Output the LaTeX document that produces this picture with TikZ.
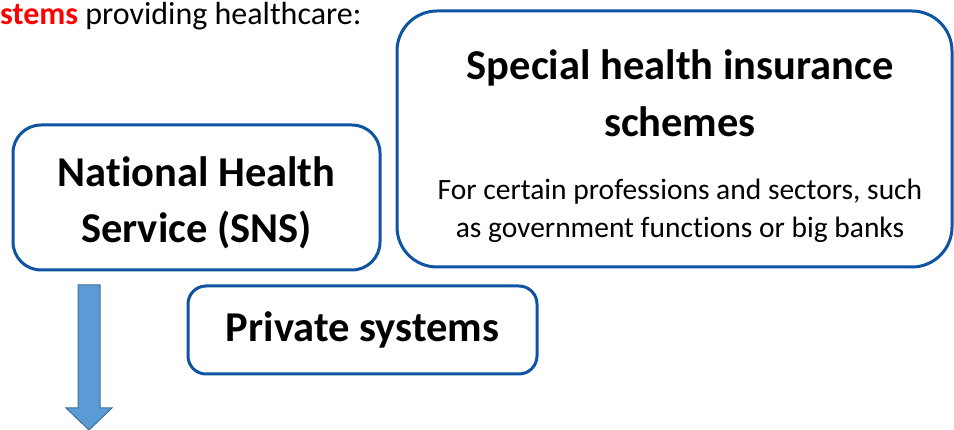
\documentclass[tikz,border=0pt]{standalone}
\usepackage{fontspec}
\setmainfont{Carlito}[Ligatures=NoCommon]
\usetikzlibrary{shapes,arrows,positioning,calc}

\definecolor{boxblue}{RGB}{14,84,163}
\definecolor{arrowfill}{RGB}{91,155,213}
\definecolor{arrowline}{RGB}{65,113,156}

\tikzset{
  sysbox/.style={draw=boxblue, line width=3pt, rounded corners=#1, fill=white, inner sep=0pt},
  bigtext/.style={font=\bfseries\fontsize{42.5}{56}\selectfont, align=center, inner sep=0pt},
  smalltext/.style={font=\fontsize{29.5}{38}\selectfont, align=center, inner sep=0pt},
}

\begin{document}
\begin{tikzpicture}[x=1pt,y=-1pt]
  \useasboundingbox (0,0) rectangle (954,430);

  % heading line, cut at the left
  \node[anchor=base west, inner sep=0pt, font=\fontsize{32}{38}\selectfont] (intro) at (0,25)
    {\textcolor{red}{\textbf{stems}} providing healthcare:};

  % the three systems
  \node[sysbox=28pt, minimum width=367pt, minimum height=145pt] (sns) at (196.5,197.5) {};
  \node[bigtext] (snstext) at (196.5,203) {National Health\\Service (SNS)};

  \node[sysbox=40pt, minimum width=555pt, minimum height=256pt] (special) at (674.5,139) {};
  \node[bigtext, font=\bfseries\fontsize{42.5}{57}\selectfont] (specialtitle) at (680,93) {Special health insurance\\schemes};
  \node[smalltext] (specialnote) at (680,211) {For certain professions and sectors, such\\as government functions or big banks};

  \node[sysbox=18pt, bigtext, minimum width=349pt, minimum height=88pt] (private) at (362.5,330) {Private systems};

  % block arrow under SNS
  \coordinate (arrowtop) at (89,285);
  \coordinate (arrowtip) at (89,430);
  \draw[arrowline, fill=arrowfill, line width=1pt]
    ($(arrowtop)+(-11,0)$) -- ($(arrowtop)+(11,0)$) -- ($(arrowtip)+(11,-22)$)
    -- ($(arrowtip)+(23,-22)$) -- (arrowtip) -- ($(arrowtip)+(-23,-22)$)
    -- ($(arrowtip)+(-11,-22)$) -- cycle;
\end{tikzpicture}
\end{document}
